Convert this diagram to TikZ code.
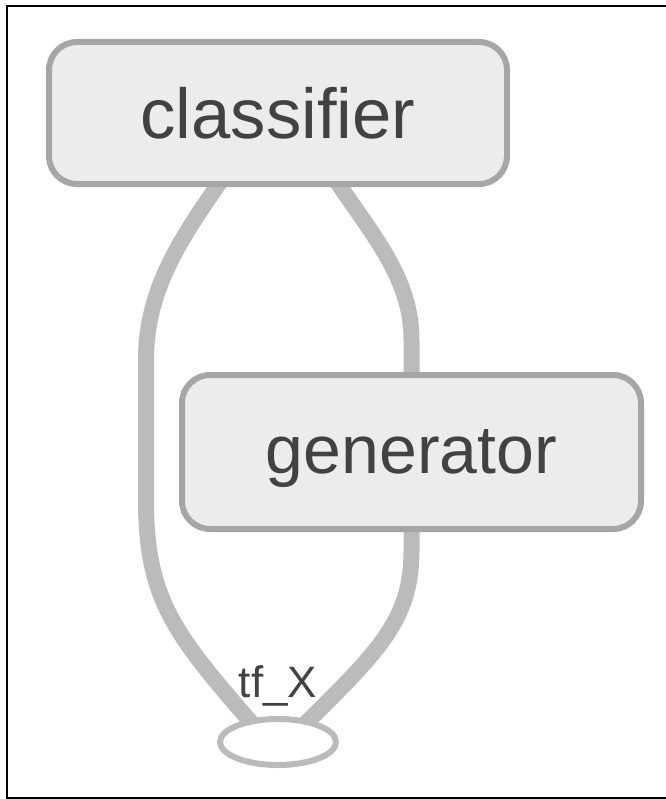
\documentclass[tikz,border=0pt]{standalone}
\usepackage{fontspec}
\setmainfont{Liberation Sans}
\usetikzlibrary{positioning,calc,backgrounds,shapes.geometric}
\definecolor{tbFill}{RGB}{236,236,236}
\definecolor{tbStroke}{RGB}{166,166,166}
\definecolor{tbEdge}{RGB}{187,187,187}
\definecolor{tbText}{RGB}{66,66,66}

\begin{document}
\begin{tikzpicture}[
    x=0.75pt, y=-0.75pt,
    meta/.style={rectangle, rounded corners=21pt, draw=tbStroke, line width=4.5pt, fill=tbFill, text=tbText, inner sep=0pt, text depth=0pt},
    op/.style={ellipse, draw=tbEdge, line width=4.5pt, fill=white, inner sep=0pt, minimum width=87pt, minimum height=34.5pt},
    op note/.style={text=tbText, font=\fontsize{33}{36}\selectfont, inner sep=0pt},
    flow/.style={draw=tbEdge, line width=12pt}
]
  \useasboundingbox (0,0) rectangle (666,799);
  \draw[line width=1.5pt] (666,6) -- (7,6) -- (7,798) -- (666,798);

  \node[meta, minimum width=343.5pt, minimum height=106.5pt, font=\fontsize{53}{60}\selectfont] (cls) at (278,113) {classifier};
  \node[meta, minimum width=344.25pt, minimum height=115.5pt, font=\fontsize{51}{58}\selectfont] (gen) at (411.5,452) {generator};
  \node[op] (tfx) at (278,742) {};
  \node[op note, anchor=base] (tfxlabel) at (278,697) {tf\_X};

  \begin{scope}[on background layer]
    \draw[flow] ($(cls.south)+(-58,-5)$) .. controls (180,240) and (146,290) .. (146,360) -- (146,500)
      .. controls (146,600) and (175,635) .. ($(tfx.center)+(-22,-14)$);
    \draw[flow] ($(cls.south)+(59,-5)$) .. controls (375,238) and (411.5,280) .. (411.5,340) -- (gen.north);
    \draw[flow] (gen.south) -- (411.5,550) .. controls (411.5,620) and (380,650) .. ($(tfx.center)+(23,-14)$);
  \end{scope}
\end{tikzpicture}
\end{document}
